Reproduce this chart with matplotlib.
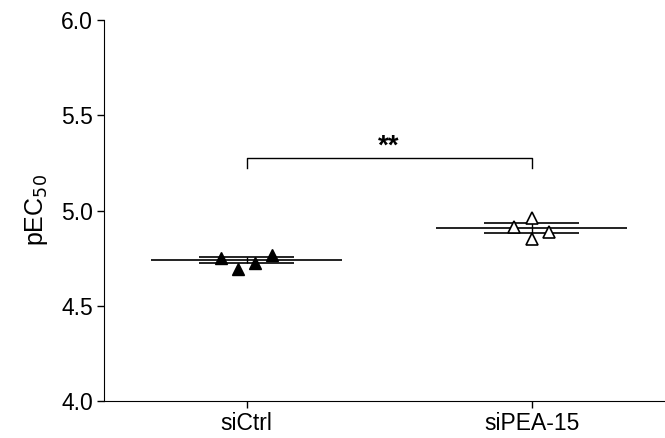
import numpy as np
import matplotlib.pyplot as plt

plt.rcParams['font.family'] = ['Liberation Sans', 'DejaVu Sans']

# =========================
# data
# =========================
groups = ["siCtrl", "siPEA-15"]
ctrl_vals = [4.751, 4.693, 4.724, 4.766]
pea_vals = [4.915, 4.959, 4.849, 4.889]
ctrl_offsets = [-0.09, -0.03, 0.03, 0.09]
pea_offsets = [-0.06, 0.0, 0.0, 0.06]
ctrl_mean, ctrl_sem = 4.740, 0.018
pea_mean, pea_sem = 4.908, 0.024
sig_label = "**"

# =========================
# plot
# =========================
fig = plt.figure(figsize=(6.65, 4.38), dpi=100)
ax = fig.add_axes([104 / 665, 37 / 438, 1 - 104 / 665, 381 / 438])

# points
ax.plot(np.array(ctrl_offsets) + 0, ctrl_vals, linestyle="none", marker="^",
        markersize=9, color="black", zorder=3)
ax.plot(np.array(pea_offsets) + 1, pea_vals, linestyle="none", marker="^",
        markersize=9, markerfacecolor="white", markeredgecolor="black",
        markeredgewidth=1.2, zorder=3)

# mean and sem lines
for i, (m, s) in enumerate([(ctrl_mean, ctrl_sem), (pea_mean, pea_sem)]):
    ax.hlines(m, i - 0.334, i + 0.334, color="#222222", lw=1.4, zorder=2)
    ax.hlines([m - s, m + s], i - 0.166, i + 0.166, color="black", lw=1.2, zorder=2)
    ax.vlines(i, m - s, m + s, color="black", lw=1.0, zorder=2)

# significance bracket
ax.plot([0, 0, 1, 1], [5.223, 5.277, 5.277, 5.223], color="black", lw=1.0)
ax.text(0.5, 5.30, sig_label, ha="center", va="baseline", fontsize=20,
        fontweight="bold")

ax.set_xlim(-0.5, 1.468)
ax.set_ylim(4.0, 6.0)
ax.set_yticks([4.0, 4.5, 5.0, 5.5, 6.0])
ax.set_yticklabels(["4.0", "4.5", "5.0", "5.5", "6.0"])
ax.set_xticks([0, 1])
ax.set_xticklabels(groups)
ax.tick_params(labelsize=16.5, length=5, width=1, direction="out", pad=3)
ax.set_ylabel("pEC$_{50}$", fontsize=18, labelpad=8)

ax.spines["top"].set_visible(False)
ax.spines["right"].set_visible(False)

plt.savefig("out.png", dpi=100)
